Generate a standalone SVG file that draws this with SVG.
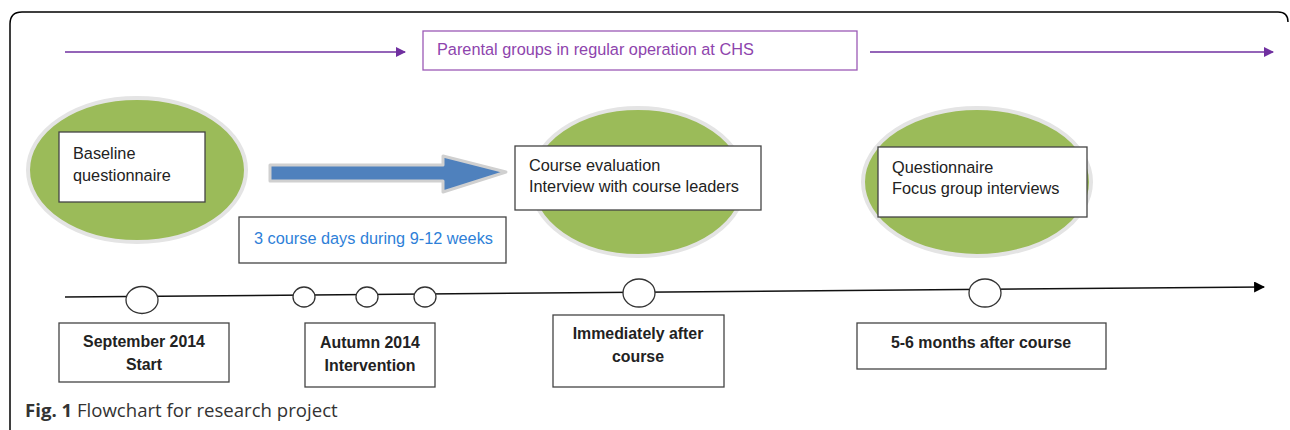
<svg xmlns="http://www.w3.org/2000/svg" width="1290" height="430" viewBox="0 0 1290 430">
<style>
.t{font-family:"Liberation Sans",Arial,sans-serif;font-size:16.3px;fill:#222}
.b{font-family:"Liberation Sans",Arial,sans-serif;font-size:15.9px;font-weight:bold;fill:#222;text-anchor:middle}
.box{fill:#fff;stroke:#444;stroke-width:1.3}
.ell{fill:#9bbb59;stroke:#e4e4e4;stroke-width:4}
.dot{fill:#fff;stroke:#333;stroke-width:1.3}
.cap{font-family:"Open Sans","Noto Sans",sans-serif;font-size:18.6px;fill:#333}
</style>
<defs>
<marker id="pa" viewBox="0 0 10 10" refX="9" refY="5" markerWidth="10" markerHeight="10" markerUnits="userSpaceOnUse" orient="auto"><path d="M0,0L10,5L0,10z" fill="#7030a0"/></marker>
<marker id="ka" viewBox="0 0 10 10" refX="9" refY="5" markerWidth="11" markerHeight="11" markerUnits="userSpaceOnUse" orient="auto"><path d="M0,0L10,5L0,10z" fill="#000"/></marker>
</defs>
<rect width="1290" height="430" fill="#fff"/>
<path d="M10,432V24Q10,12 22,12H1278Q1288,12 1288,22" fill="none" stroke="#000" stroke-width="1.5"/>

<g id="connectors">
<line x1="65" y1="52" x2="405" y2="52" stroke="#7030a0" stroke-width="1.5" marker-end="url(#pa)"/>
<line x1="870" y1="52" x2="1273" y2="52" stroke="#7030a0" stroke-width="1.5" marker-end="url(#pa)"/>
<path d="M65,297L1264,287" stroke="#111" stroke-width="1.5" fill="none" marker-end="url(#ka)"/>
<path d="M270,165H443V156L506,172L443,192V181H270Z" fill="#4f81bd" stroke="#d0d0d0" stroke-width="3" stroke-linejoin="round"/>
</g>

<g id="parental">
<rect x="423" y="31" width="434" height="39" fill="#fff" stroke="#9b59b6" stroke-width="1.3"/>
<text x="437" y="55" class="t" style="fill:#8e44ad">Parental groups in regular operation at CHS</text>
</g>

<g id="baseline">
<ellipse cx="137" cy="170" rx="109" ry="72" class="ell"/>
<rect x="59" y="132" width="146" height="70" class="box"/>
<text x="73" y="159" class="t">Baseline</text>
<text x="73" y="181" class="t">questionnaire</text>
</g>

<g id="course-days">
<rect x="239" y="217" width="267" height="46" class="box"/>
<text x="254" y="244" class="t" style="fill:#2e7fd8">3 course days during 9-12 weeks</text>
</g>

<g id="evaluation">
<ellipse cx="638" cy="182" rx="107" ry="74" class="ell"/>
<rect x="515" y="146" width="246" height="64" class="box"/>
<text x="529" y="171" class="t">Course evaluation</text>
<text x="529" y="192" class="t">Interview with course leaders</text>
</g>

<g id="followup">
<ellipse cx="977" cy="182" rx="114" ry="74" class="ell"/>
<rect x="878" y="147" width="209" height="70" class="box"/>
<text x="892" y="173" class="t">Questionnaire</text>
<text x="892" y="194" class="t">Focus group interviews</text>
</g>

<g id="milestones">
<ellipse cx="142" cy="300" rx="16" ry="13.5" class="dot"/>
<ellipse cx="304" cy="297" rx="11" ry="10" class="dot"/>
<ellipse cx="367" cy="297" rx="11" ry="10" class="dot"/>
<ellipse cx="425" cy="297" rx="11" ry="10" class="dot"/>
<ellipse cx="639" cy="293" rx="16" ry="14" class="dot"/>
<ellipse cx="985" cy="293" rx="16" ry="14" class="dot"/>
</g>

<g id="sept">
<rect x="59" y="323" width="170" height="59" class="box"/>
<text x="144" y="347" class="b">September 2014</text>
<text x="144" y="370" class="b">Start</text>
</g>
<g id="autumn">
<rect x="305" y="323" width="130" height="64" class="box"/>
<text x="370" y="348" class="b">Autumn 2014</text>
<text x="370" y="371" class="b">Intervention</text>
</g>
<g id="immediately">
<rect x="553" y="315" width="171" height="72" class="box"/>
<text x="638" y="339" class="b">Immediately after</text>
<text x="638" y="362" class="b">course</text>
</g>
<g id="months">
<rect x="857" y="323" width="249" height="46" class="box"/>
<text x="981" y="348" class="b">5-6 months after course</text>
</g>

<text x="25" y="417" class="cap"><tspan font-weight="bold">Fig. 1</tspan> Flowchart for research project</text>
</svg>
